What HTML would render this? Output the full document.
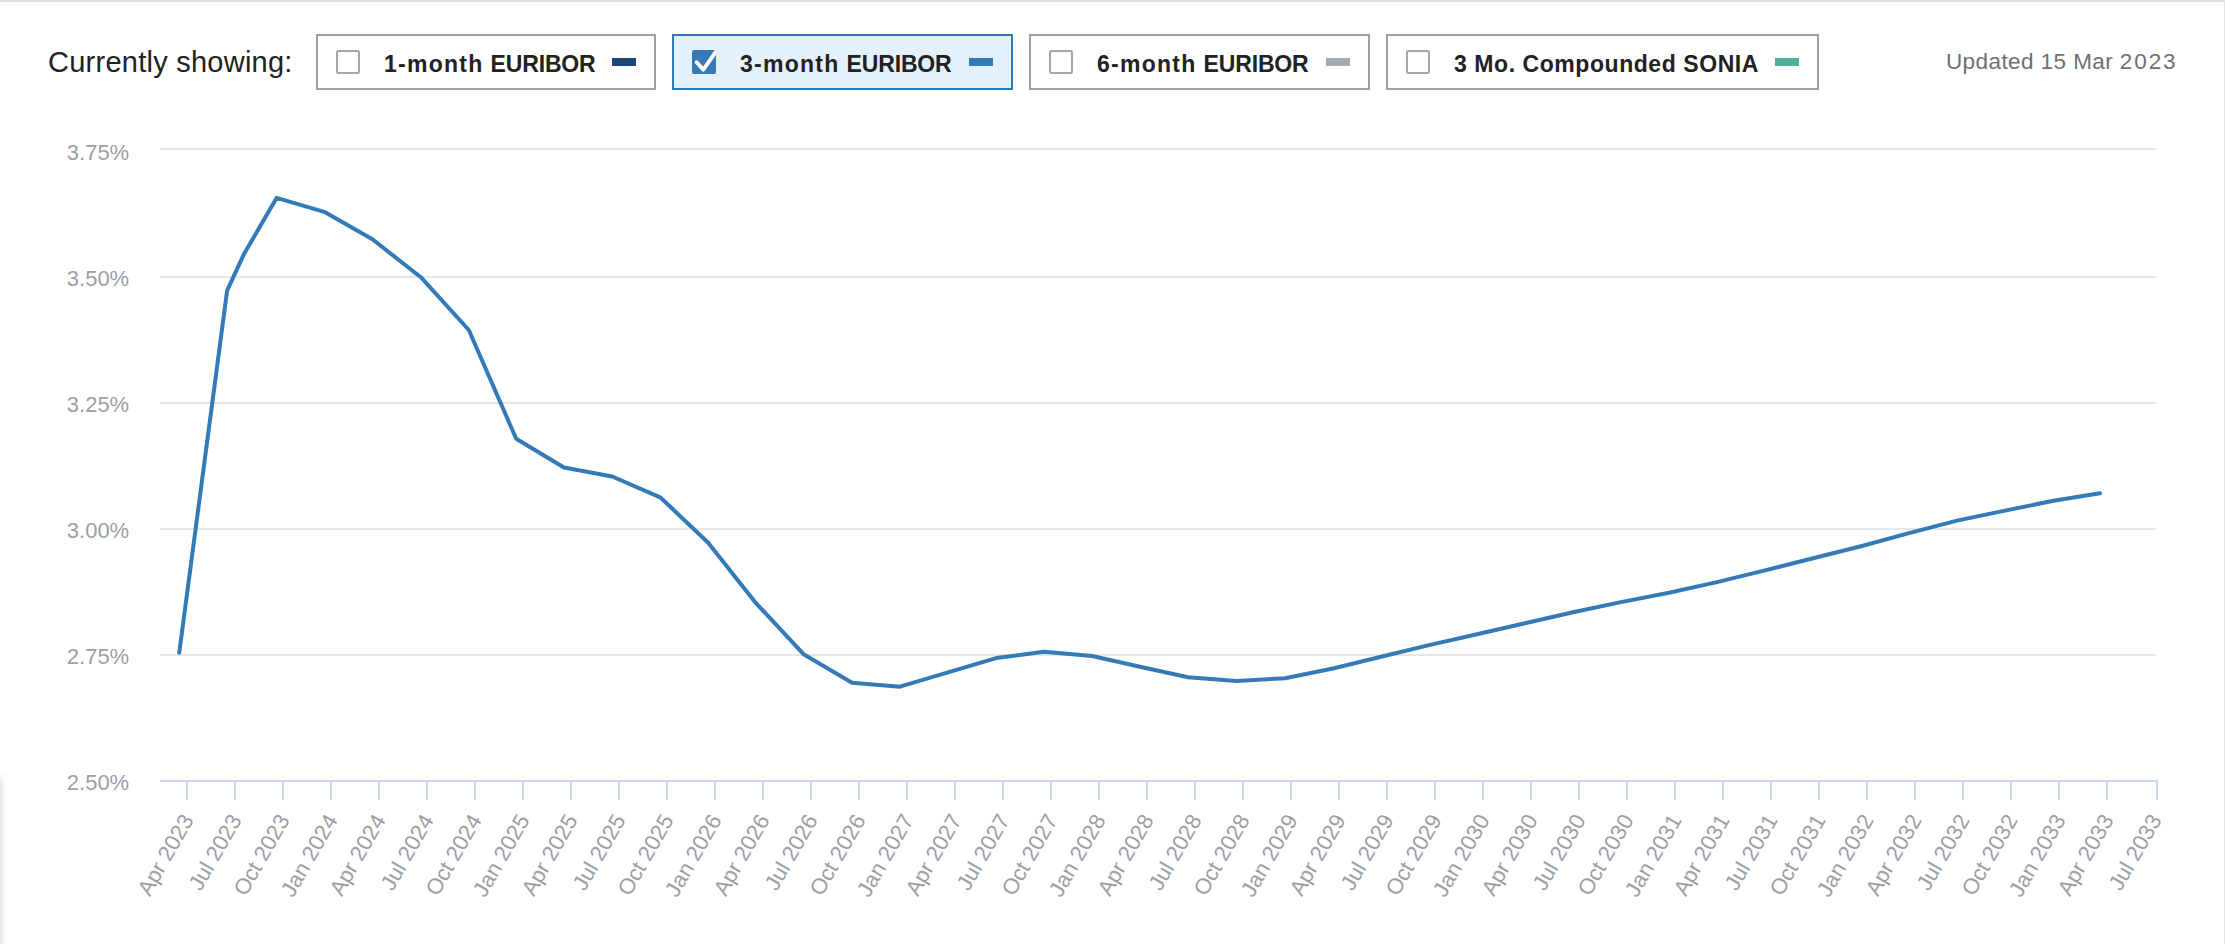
<!DOCTYPE html>
<html lang="en"><head><meta charset="utf-8"><title>Forward curve</title>
<style>
html,body{margin:0;padding:0;background:#fff;}
body{width:2225px;height:944px;position:relative;overflow:hidden;font-family:"Liberation Sans",sans-serif;}
.topline{position:absolute;left:0;top:0;width:2225px;height:2px;background:#e1e1e1;}
.rightline{position:absolute;left:2224px;top:0;width:1px;height:944px;background:#e4e4e4;}
.shadow{position:absolute;left:-12px;top:778px;width:12px;height:200px;box-shadow:0 0 9px rgba(0,0,0,.22);}
.cur{position:absolute;left:48px;top:40px;height:44px;line-height:44px;font-size:29px;color:#222;white-space:nowrap;letter-spacing:.25px;}
.opt{position:absolute;top:34px;height:56px;box-sizing:border-box;border:2px solid #9ca0a4;background:#fff;}
.opt.on{border-color:#3279bb;background:#e4f1fa;}
.cb{position:absolute;left:18px;top:14px;width:24px;height:24px;box-sizing:border-box;border:2px solid #a3a7ab;border-radius:2.5px;background:#fff;}
.opt.on .cb{border:none;background:#337ab7;border-radius:2px;overflow:hidden;}
.cb svg{position:absolute;left:0;top:0;overflow:hidden;}
.lbl{position:absolute;left:66px;top:8px;height:40px;line-height:40px;font-size:23px;font-weight:bold;color:#222;white-space:nowrap;letter-spacing:.56px;}
.lc{letter-spacing:1.27px;}.uc{letter-spacing:-.15px;}
.sw{position:absolute;top:22px;width:24px;height:8px;}
.upd{position:absolute;right:47.5px;top:41.5px;height:40px;line-height:40px;font-size:22.5px;color:#707070;white-space:nowrap;letter-spacing:.6px;}
.u1{letter-spacing:.42px;}.u2{letter-spacing:1.9px;}
.chart{position:absolute;left:0;top:0;}
.chart text{font-family:"Liberation Sans",sans-serif;font-size:22px;fill:#9c9fa3;}
</style></head><body>
<div class="topline"></div><div class="rightline"></div><div class="shadow"></div>
<div class="cur">Currently showing:</div>
<div class="opt" style="left:316px;width:340px;"><span class="cb"></span><span class="lbl"><span class="lc">1-month</span> <span class="uc">EURIBOR</span></span><span class="sw" style="left:294px;background:#1d4477;"></span></div>
<div class="opt on" style="left:672px;width:341px;"><span class="cb"><svg width="24" height="24" viewBox="0 0 24 24"><path d="M4.7 12.3 L11.3 19.6 L25 0.2" fill="none" stroke="#fff" stroke-width="3.9" stroke-linecap="round" stroke-linejoin="round"/></svg></span><span class="lbl"><span class="lc">3-month</span> <span class="uc">EURIBOR</span></span><span class="sw" style="left:295px;background:#337ab7;"></span></div>
<div class="opt" style="left:1029px;width:341px;"><span class="cb"></span><span class="lbl"><span class="lc">6-month</span> <span class="uc">EURIBOR</span></span><span class="sw" style="left:295px;background:#a7abaf;"></span></div>
<div class="opt" style="left:1386px;width:433px;"><span class="cb"></span><span class="lbl">3 Mo. Compounded SONIA</span><span class="sw" style="left:387px;background:#4fb09c;"></span></div>
<div class="upd"><span class="u1">Updated 15 Mar </span><span class="u2">2023</span></div>
<svg class="chart" width="2225" height="944" viewBox="0 0 2225 944">
<rect x="160" y="148" width="1996" height="2" fill="#e6e6e6"/>
<rect x="160" y="276" width="1996" height="2" fill="#e6e6e6"/>
<rect x="160" y="402" width="1996" height="2" fill="#e6e6e6"/>
<rect x="160" y="528" width="1996" height="2" fill="#e6e6e6"/>
<rect x="160" y="654" width="1996" height="2" fill="#e6e6e6"/>
<rect x="160" y="780" width="1998" height="2" fill="#ccd6eb"/>
<rect x="186" y="782" width="2" height="18" fill="#ccd6eb"/>
<rect x="234" y="782" width="2" height="18" fill="#ccd6eb"/>
<rect x="282" y="782" width="2" height="18" fill="#ccd6eb"/>
<rect x="330" y="782" width="2" height="18" fill="#ccd6eb"/>
<rect x="378" y="782" width="2" height="18" fill="#ccd6eb"/>
<rect x="426" y="782" width="2" height="18" fill="#ccd6eb"/>
<rect x="474" y="782" width="2" height="18" fill="#ccd6eb"/>
<rect x="522" y="782" width="2" height="18" fill="#ccd6eb"/>
<rect x="570" y="782" width="2" height="18" fill="#ccd6eb"/>
<rect x="618" y="782" width="2" height="18" fill="#ccd6eb"/>
<rect x="666" y="782" width="2" height="18" fill="#ccd6eb"/>
<rect x="714" y="782" width="2" height="18" fill="#ccd6eb"/>
<rect x="762" y="782" width="2" height="18" fill="#ccd6eb"/>
<rect x="810" y="782" width="2" height="18" fill="#ccd6eb"/>
<rect x="858" y="782" width="2" height="18" fill="#ccd6eb"/>
<rect x="906" y="782" width="2" height="18" fill="#ccd6eb"/>
<rect x="954" y="782" width="2" height="18" fill="#ccd6eb"/>
<rect x="1002" y="782" width="2" height="18" fill="#ccd6eb"/>
<rect x="1050" y="782" width="2" height="18" fill="#ccd6eb"/>
<rect x="1098" y="782" width="2" height="18" fill="#ccd6eb"/>
<rect x="1146" y="782" width="2" height="18" fill="#ccd6eb"/>
<rect x="1194" y="782" width="2" height="18" fill="#ccd6eb"/>
<rect x="1242" y="782" width="2" height="18" fill="#ccd6eb"/>
<rect x="1290" y="782" width="2" height="18" fill="#ccd6eb"/>
<rect x="1338" y="782" width="2" height="18" fill="#ccd6eb"/>
<rect x="1386" y="782" width="2" height="18" fill="#ccd6eb"/>
<rect x="1434" y="782" width="2" height="18" fill="#ccd6eb"/>
<rect x="1482" y="782" width="2" height="18" fill="#ccd6eb"/>
<rect x="1530" y="782" width="2" height="18" fill="#ccd6eb"/>
<rect x="1578" y="782" width="2" height="18" fill="#ccd6eb"/>
<rect x="1626" y="782" width="2" height="18" fill="#ccd6eb"/>
<rect x="1674" y="782" width="2" height="18" fill="#ccd6eb"/>
<rect x="1722" y="782" width="2" height="18" fill="#ccd6eb"/>
<rect x="1770" y="782" width="2" height="18" fill="#ccd6eb"/>
<rect x="1818" y="782" width="2" height="18" fill="#ccd6eb"/>
<rect x="1866" y="782" width="2" height="18" fill="#ccd6eb"/>
<rect x="1914" y="782" width="2" height="18" fill="#ccd6eb"/>
<rect x="1962" y="782" width="2" height="18" fill="#ccd6eb"/>
<rect x="2010" y="782" width="2" height="18" fill="#ccd6eb"/>
<rect x="2058" y="782" width="2" height="18" fill="#ccd6eb"/>
<rect x="2106" y="782" width="2" height="18" fill="#ccd6eb"/>
<rect x="2156" y="782" width="2" height="18" fill="#ccd6eb"/>
<g class="ylab">
<text x="129.2" y="160" text-anchor="end">3.75%</text>
<text x="129.2" y="286" text-anchor="end">3.50%</text>
<text x="129.2" y="412" text-anchor="end">3.25%</text>
<text x="129.2" y="538" text-anchor="end">3.00%</text>
<text x="129.2" y="664" text-anchor="end">2.75%</text>
<text x="129.2" y="790" text-anchor="end">2.50%</text>
</g>
<g class="xlab">
<text x="194.3" y="820" text-anchor="end" transform="rotate(-60 194.3 820)">Apr 2023</text>
<text x="242.3" y="820" text-anchor="end" transform="rotate(-60 242.3 820)">Jul 2023</text>
<text x="290.3" y="820" text-anchor="end" transform="rotate(-60 290.3 820)">Oct 2023</text>
<text x="338.3" y="820" text-anchor="end" transform="rotate(-60 338.3 820)">Jan 2024</text>
<text x="386.3" y="820" text-anchor="end" transform="rotate(-60 386.3 820)">Apr 2024</text>
<text x="434.3" y="820" text-anchor="end" transform="rotate(-60 434.3 820)">Jul 2024</text>
<text x="482.3" y="820" text-anchor="end" transform="rotate(-60 482.3 820)">Oct 2024</text>
<text x="530.3" y="820" text-anchor="end" transform="rotate(-60 530.3 820)">Jan 2025</text>
<text x="578.3" y="820" text-anchor="end" transform="rotate(-60 578.3 820)">Apr 2025</text>
<text x="626.3" y="820" text-anchor="end" transform="rotate(-60 626.3 820)">Jul 2025</text>
<text x="674.3" y="820" text-anchor="end" transform="rotate(-60 674.3 820)">Oct 2025</text>
<text x="722.3" y="820" text-anchor="end" transform="rotate(-60 722.3 820)">Jan 2026</text>
<text x="770.3" y="820" text-anchor="end" transform="rotate(-60 770.3 820)">Apr 2026</text>
<text x="818.3" y="820" text-anchor="end" transform="rotate(-60 818.3 820)">Jul 2026</text>
<text x="866.3" y="820" text-anchor="end" transform="rotate(-60 866.3 820)">Oct 2026</text>
<text x="914.3" y="820" text-anchor="end" transform="rotate(-60 914.3 820)">Jan 2027</text>
<text x="962.3" y="820" text-anchor="end" transform="rotate(-60 962.3 820)">Apr 2027</text>
<text x="1010.3" y="820" text-anchor="end" transform="rotate(-60 1010.3 820)">Jul 2027</text>
<text x="1058.3" y="820" text-anchor="end" transform="rotate(-60 1058.3 820)">Oct 2027</text>
<text x="1106.3" y="820" text-anchor="end" transform="rotate(-60 1106.3 820)">Jan 2028</text>
<text x="1154.3" y="820" text-anchor="end" transform="rotate(-60 1154.3 820)">Apr 2028</text>
<text x="1202.3" y="820" text-anchor="end" transform="rotate(-60 1202.3 820)">Jul 2028</text>
<text x="1250.3" y="820" text-anchor="end" transform="rotate(-60 1250.3 820)">Oct 2028</text>
<text x="1298.3" y="820" text-anchor="end" transform="rotate(-60 1298.3 820)">Jan 2029</text>
<text x="1346.3" y="820" text-anchor="end" transform="rotate(-60 1346.3 820)">Apr 2029</text>
<text x="1394.3" y="820" text-anchor="end" transform="rotate(-60 1394.3 820)">Jul 2029</text>
<text x="1442.3" y="820" text-anchor="end" transform="rotate(-60 1442.3 820)">Oct 2029</text>
<text x="1490.3" y="820" text-anchor="end" transform="rotate(-60 1490.3 820)">Jan 2030</text>
<text x="1538.3" y="820" text-anchor="end" transform="rotate(-60 1538.3 820)">Apr 2030</text>
<text x="1586.3" y="820" text-anchor="end" transform="rotate(-60 1586.3 820)">Jul 2030</text>
<text x="1634.3" y="820" text-anchor="end" transform="rotate(-60 1634.3 820)">Oct 2030</text>
<text x="1682.3" y="820" text-anchor="end" transform="rotate(-60 1682.3 820)">Jan 2031</text>
<text x="1730.3" y="820" text-anchor="end" transform="rotate(-60 1730.3 820)">Apr 2031</text>
<text x="1778.3" y="820" text-anchor="end" transform="rotate(-60 1778.3 820)">Jul 2031</text>
<text x="1826.3" y="820" text-anchor="end" transform="rotate(-60 1826.3 820)">Oct 2031</text>
<text x="1874.3" y="820" text-anchor="end" transform="rotate(-60 1874.3 820)">Jan 2032</text>
<text x="1922.3" y="820" text-anchor="end" transform="rotate(-60 1922.3 820)">Apr 2032</text>
<text x="1970.3" y="820" text-anchor="end" transform="rotate(-60 1970.3 820)">Jul 2032</text>
<text x="2018.3" y="820" text-anchor="end" transform="rotate(-60 2018.3 820)">Oct 2032</text>
<text x="2066.3" y="820" text-anchor="end" transform="rotate(-60 2066.3 820)">Jan 2033</text>
<text x="2114.3" y="820" text-anchor="end" transform="rotate(-60 2114.3 820)">Apr 2033</text>
<text x="2162.3" y="820" text-anchor="end" transform="rotate(-60 2162.3 820)">Jul 2033</text>
</g>
<path d="M179.25 652.7 L227.1 290.7 L243.7 254.6 L276.6 197.9 L324.2 211.8 L372.4 239.3 L420.8 277.2 L468.8 330.0 L516.2 438.8 L564.0 467.5 L612.2 476.5 L660.2 497.3 L708.0 542.5 L755.8 602.9 L804.0 654.6 L852.0 682.7 L900.0 686.7 L948.0 672.3 L996.2 658.1 L1044.0 651.7 L1092.0 656.0 L1140.0 666.8 L1188.0 677.3 L1236.5 681.1 L1285.0 678.2 L1333 668.5 L1381 656.8 L1429 645.1 L1477 634.3 L1525 623.3 L1573 612.2 L1621 602.1 L1669 592.8 L1717 582.1 L1765 570.4 L1813 558.3 L1861 546.2 L1909 533.1 L1957 520.6 L2005 510.6 L2053.5 500.7 L2100 493.3" fill="none" stroke="#337ab7" stroke-width="4" stroke-linejoin="round" stroke-linecap="round"/>
</svg>
</body></html>
